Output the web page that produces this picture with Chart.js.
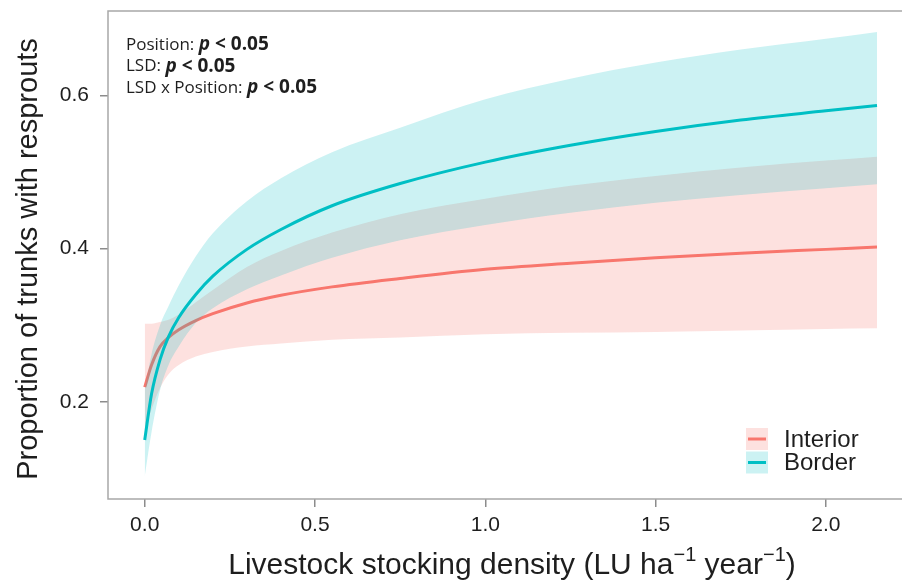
<!DOCTYPE html>
<html>
<head>
<meta charset="utf-8">
<script src="https://cdn.jsdelivr.net/npm/chart.js@4.4.1/dist/chart.umd.min.js"></script>
<style>
	body { margin: 0; background: #fff; }
</style>
</head>
<body>
<canvas id="myChart" width="902" height="583"></canvas>
<script>
// livestock stocking density (LU ha-1 year-1)
var density = [0, 0.02, 0.045, 0.07, 0.1, 0.15, 0.2, 0.3, 0.4, 0.55, 0.75, 1.0, 1.25, 1.5, 1.75, 2.0, 2.15];

var interiorFit = [0.219, 0.248, 0.272, 0.284, 0.294, 0.306, 0.315, 0.329, 0.339, 0.350, 0.361, 0.373, 0.381, 0.388, 0.394, 0.399, 0.402];
var interiorLow = [0.160, 0.190, 0.218, 0.236, 0.248, 0.259, 0.265, 0.272, 0.276, 0.281, 0.284, 0.288, 0.290, 0.291, 0.293, 0.295, 0.296];
var interiorHigh = [0.302, 0.302, 0.304, 0.307, 0.314, 0.330, 0.346, 0.376, 0.397, 0.421, 0.445, 0.465, 0.482, 0.495, 0.506, 0.515, 0.520];

var borderFit = [0.150, 0.210, 0.255, 0.285, 0.310, 0.340, 0.364, 0.399, 0.425, 0.456, 0.485, 0.513, 0.535, 0.553, 0.568, 0.580, 0.587];
var borderLow = [0.102, 0.160, 0.215, 0.248, 0.272, 0.303, 0.322, 0.347, 0.365, 0.388, 0.411, 0.431, 0.447, 0.460, 0.470, 0.479, 0.484];
var borderHigh = [0.215, 0.262, 0.300, 0.325, 0.352, 0.390, 0.420, 0.462, 0.492, 0.526, 0.558, 0.595, 0.622, 0.643, 0.660, 0.674, 0.683];

var xTicks = [0, 0.5, 1, 1.5, 2];
var yTicks = [0.2, 0.4, 0.6];

var seriesNames = ["Interior", "Border"];
var statLines = [
	["Position: ", "p", " < 0.05"],
	["LSD: ", "p", " < 0.05"],
	["LSD x Position: ", "p", " < 0.05"],
];

var red = "#F8766D";
var cyan = "#00BFC4";
var redFill = "rgba(248, 118, 109, 0.22)";
var cyanFill = "rgba(0, 191, 196, 0.2)";
var textColor = "#1e1e1e";
var axisFont = "'Liberation Sans', Arial, sans-serif";

function pts(ys) {
	return density.map(function (x, i) {
		return { x: x, y: ys[i] };
	});
}

function band(ys, color, order, fillTo) {
	return {
		data: pts(ys),
		borderWidth: 0,
		pointRadius: 0,
		backgroundColor: color,
		fill: fillTo,
		order: order,
		cubicInterpolationMode: "monotone",
	};
}

function fitLine(ys, color, order) {
	return {
		data: pts(ys),
		borderColor: color,
		borderWidth: 3,
		pointRadius: 0,
		fill: false,
		order: order,
		cubicInterpolationMode: "monotone",
	};
}

function noPad(scale) {
	scale.paddingTop = 0;
	scale.paddingBottom = 0;
	scale.paddingLeft = 0;
	scale.paddingRight = 0;
}

var decorations = {
	id: "decorations",
	afterDraw: function (chart) {
		var ctx = chart.ctx;
		var a = chart.chartArea;
		ctx.save();

		// box (left, top, bottom)
		ctx.strokeStyle = "#a8a8a8";
		ctx.lineWidth = 1.5;
		ctx.beginPath();
		ctx.moveTo(a.right + 2, a.top);
		ctx.lineTo(a.left, a.top);
		ctx.lineTo(a.left, a.bottom);
		ctx.lineTo(a.right + 2, a.bottom);
		ctx.stroke();

		// stats text
		ctx.fillStyle = textColor;
		ctx.textBaseline = "middle";
		ctx.textAlign = "left";
		statLines.forEach(function (parts, i) {
			var x = 126;
			var y = 45 + i * 21.5;
			ctx.font = "17px 'Open Sans'";
			ctx.fillText(parts[0], x, y);
			x += ctx.measureText(parts[0]).width;
			ctx.font = "italic bold 19px 'Open Sans'";
			ctx.fillText(parts[1], x, y);
			x += ctx.measureText(parts[1]).width;
			ctx.font = "bold 19px 'Open Sans'";
			ctx.fillText(parts[2], x, y);
		});

		// legend
		var fills = [redFill, cyanFill];
		var cols = [red, cyan];
		seriesNames.forEach(function (name, i) {
			var top = 428 + i * 23.5;
			ctx.fillStyle = "#fff";
			ctx.fillRect(746, top, 22, 22);
			ctx.fillStyle = fills[i];
			ctx.fillRect(746, top, 22, 22);
			ctx.strokeStyle = cols[i];
			ctx.lineWidth = 3;
			ctx.beginPath();
			ctx.moveTo(748, top + 11);
			ctx.lineTo(766, top + 11);
			ctx.stroke();
			ctx.fillStyle = textColor;
			ctx.font = "24px " + axisFont;
			ctx.fillText(name, 784, top + 12);
		});

		// y title
		ctx.save();
		ctx.translate(29, 259);
		ctx.rotate(-Math.PI / 2);
		ctx.textAlign = "center";
		ctx.font = "29px " + axisFont;
		ctx.fillText("Proportion of trunks with resprouts", 0, 0);
		ctx.restore();

		// x title with superscripts
		var pieces = [
			["Livestock stocking density (LU ha", false],
			["\u22121", true],
			[" year", false],
			["\u22121", true],
			[")", false],
		];
		var big = "30px " + axisFont;
		var small = "20px " + axisFont;
		var total = 0;
		pieces.forEach(function (p) {
			ctx.font = p[1] ? small : big;
			total += ctx.measureText(p[0]).width;
		});
		var x = 512 - total / 2;
		ctx.textAlign = "left";
		ctx.textBaseline = "alphabetic";
		pieces.forEach(function (p) {
			ctx.font = p[1] ? small : big;
			ctx.fillText(p[0], x, p[1] ? 561 : 574);
			x += ctx.measureText(p[0]).width;
		});

		ctx.restore();
	},
};

var ctx = document.getElementById("myChart").getContext("2d");
var myChart = new Chart(ctx, {
	type: "line",
	data: {
		datasets: [
			band(interiorHigh, redFill, 4, "+1"),
			band(interiorLow, "transparent", 4, false),
			fitLine(interiorFit, red, 3),
			band(borderHigh, cyanFill, 2, "+1"),
			band(borderLow, "transparent", 2, false),
			fitLine(borderFit, cyan, 1),
		],
	},
	options: {
		responsive: false,
		animation: false,
		layout: { padding: { top: 11, left: 0, right: 0, bottom: 0 } },
		plugins: {
			legend: { display: false },
			tooltip: { enabled: false },
			filler: { propagate: false },
		},
		scales: {
			x: {
				type: "linear",
				min: -0.1078,
				max: 2.2234,
				afterBuildTicks: function (scale) {
					scale.ticks = xTicks.map(function (v) {
						return { value: v };
					});
				},
				afterFit: function (scale) {
					scale.height = 84;
					noPad(scale);
				},
				grid: { drawOnChartArea: false, tickLength: 8, color: "#8c8c8c", lineWidth: 1.5 },
				border: { display: false },
				ticks: {
					padding: 6,
					color: textColor,
					font: { size: 21, family: axisFont },
					maxRotation: 0,
					callback: function (v) {
						return v.toFixed(1);
					},
				},
			},
			y: {
				type: "linear",
				min: 0.0729,
				max: 0.7104,
				afterBuildTicks: function (scale) {
					scale.ticks = yTicks.map(function (v) {
						return { value: v };
					});
				},
				afterFit: function (scale) {
					scale.width = 108;
					noPad(scale);
				},
				grid: { drawOnChartArea: false, tickLength: 8, color: "#8c8c8c", lineWidth: 1.5 },
				border: { display: false },
				ticks: {
					padding: 11,
					color: textColor,
					font: { size: 21, family: axisFont },
					callback: function (v) {
						return v.toFixed(1);
					},
				},
			},
		},
	},
	plugins: [decorations],
});
</script>
</body>
</html>
